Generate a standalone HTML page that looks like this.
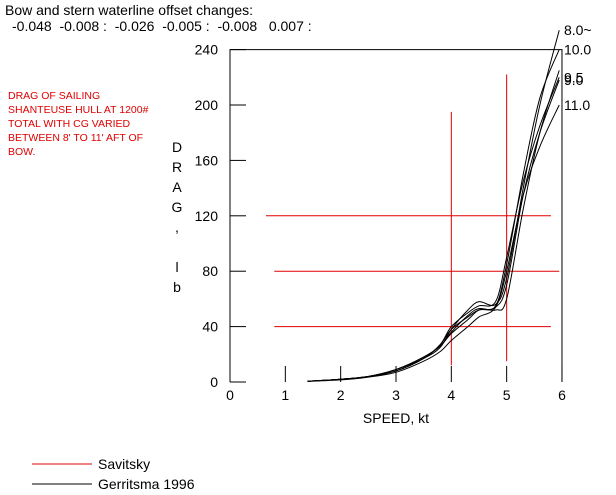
<!DOCTYPE html>
<html><head><meta charset="utf-8"><style>
body{margin:0;background:#fff;width:616px;height:495px;overflow:hidden;font-family:"Liberation Sans",sans-serif}
svg{position:absolute;left:0;top:0}
</style></head><body>
<svg width="616" height="495" font-family="Liberation Sans, sans-serif">
<text x="5" y="15" font-size="14">Bow and stern waterline offset changes:</text>
<text x="12" y="31" font-size="14" xml:space="preserve">-0.048  -0.008 :  -0.026  -0.005 :  -0.008   0.007 :</text>
<g fill="#e00000" font-size="10.5">
<text x="8" y="99">DRAG OF SAILING</text><text x="8" y="113">SHANTEUSE HULL AT 1200#</text>
<text x="8" y="127">TOTAL WITH CG VARIED</text><text x="8" y="141">BETWEEN 8' TO 11' AFT OF</text><text x="8" y="155">BOW.</text></g>
<g font-size="14" text-anchor="middle">
<text x="177" y="152">D</text><text x="177" y="172">R</text><text x="177" y="192">A</text><text x="177" y="212">G</text><text x="177" y="232">,</text><text x="177" y="272">l</text><text x="177" y="292">b</text></g>
<text x="396" y="423" font-size="14" text-anchor="middle">SPEED, kt</text>
<g id="axes"></g><g id="red"></g><g id="curves"></g><g id="lbls" font-size="14"></g>
<line x1="32" y1="464" x2="92" y2="464" stroke="#e00000"/>
<text x="98" y="469" font-size="14">Savitsky</text>
<line x1="32" y1="484" x2="92" y2="484" stroke="#000"/>
<text x="98" y="489" font-size="14">Gerritsma 1996</text>
</svg>
<script>
const speeds=[1.4,2,2.5,3,3.5,3.8,4,4.3,4.5,4.8,5,5.3,5.6,5.95];
const cg80=[0.5,2,4,9,17,25,38,52,58,56,75,140,200,254];
const cg100=[0.5,2,4,9,18,26,35,45,52,55,85,150,205,240];
const cg95=[0.5,2,4,8,17,27,40,50,55,58,90,145,185,220];
const cg90=[0.5,2,4,8,17,27,38,47,52,54,70,135,180,218];
const cg110=[0.5,1.5,3.5,7,15,22,30,40,47,54,80,135,170,200];
const cgX=[0.5,2,4,9,18,26,36,48,53,52,60,125,180,225];
const series=[cg80,cg100,cg95,cg90,cg110,cgX];
const labels=["8.0~","10.0","9.5","9.0","11.0",""];
const xTicks=[0,1,2,3,4,5,6];
const yTicks=[0,40,80,120,160,200,240];
const savH=[[40,0.8,5.8],[80,0.8,5.95],[120,0.65,5.8]];
const savV=[[4,12,195],[5,15,222]];
const X=v=>230+v*55.33, Y=v=>382-v*1.385;
const NS="http://www.w3.org/2000/svg";
function mk(p,t,a){const e=document.createElementNS(NS,t);for(const k in a)e.setAttribute(k,a[k]);p.appendChild(e);return e;}
const ax=document.getElementById('axes');
let b=mk(ax,'path',{d:`M${X(0)},${Y(0)}V${Y(240)}H${X(6)}V${Y(0)}`,fill:'none',stroke:'#000'});

xTicks.forEach(t=>{const l=mk(ax,'line',{x1:X(t),x2:X(t),y1:Y(0),y2:Y(0)-16,stroke:'#000'});

const tx=mk(ax,'text',{x:X(t),y:400,'font-size':14,'text-anchor':'middle'});tx.textContent=t;
});
yTicks.forEach(t=>{const l=mk(ax,'line',{x1:X(0),x2:X(0)+16,y1:Y(t),y2:Y(t),stroke:'#000'});

const tx=mk(ax,'text',{x:218,y:Y(t)+5,'font-size':14,'text-anchor':'end'});tx.textContent=t;
});
const rd=document.getElementById('red');
savH.forEach(h=>{const l=mk(rd,'line',{x1:X(h[1]),x2:X(h[2]),y1:Y(h[0]),y2:Y(h[0]),stroke:'#e00000'});
});
savV.forEach(v=>{const l=mk(rd,'line',{x1:X(v[0]),x2:X(v[0]),y1:Y(v[1]),y2:Y(v[2]),stroke:'#e00000'});
});
const cv=document.getElementById('curves'),lb=document.getElementById('lbls');
series.forEach((s,i)=>{const pts=speeds.map((x,j)=>[X(x),Y(s[j])]);
let d=`M${pts[0][0]},${pts[0][1]}`;
for(let j=0;j<pts.length-1;j++){const p0=pts[Math.max(j-1,0)],p1=pts[j],p2=pts[j+1],p3=pts[Math.min(j+2,pts.length-1)];
d+=`C${p1[0]+(p2[0]-p0[0])/6},${p1[1]+(p2[1]-p0[1])/6} ${p2[0]-(p3[0]-p1[0])/6},${p2[1]-(p3[1]-p1[1])/6} ${p2[0]},${p2[1]}`;}
const p=mk(cv,'path',{d:d,fill:'none',stroke:'#000','stroke-width':1});

if(labels[i]){const t=mk(lb,'text',{x:X(6)+2,y:Y(s[s.length-1])+5});t.textContent=labels[i];
}});
</script>
</body></html>
